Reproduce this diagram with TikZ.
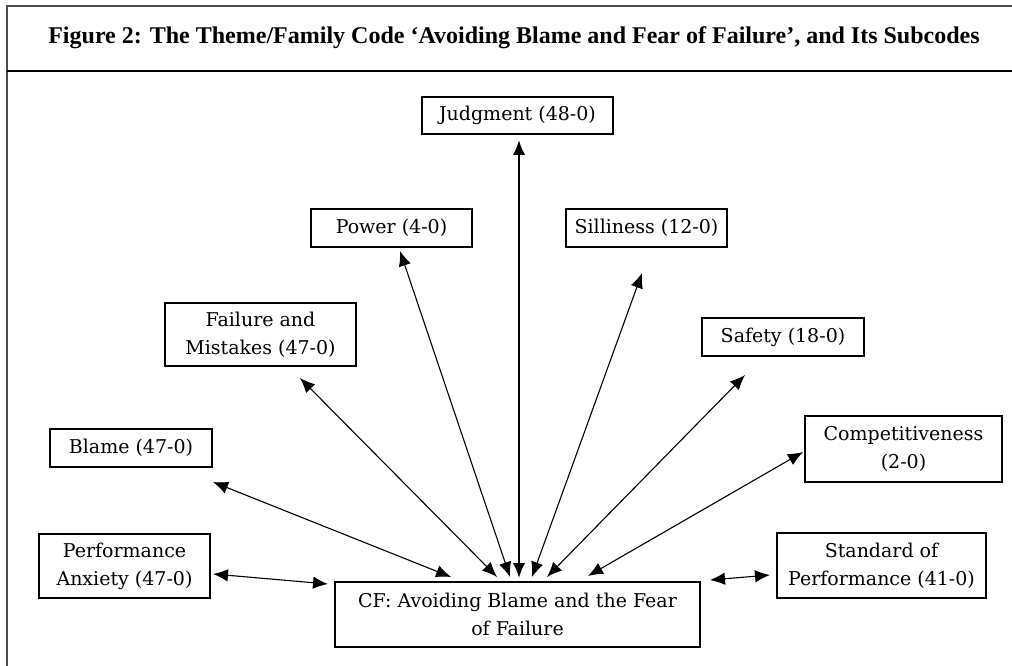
\documentclass[tikz,border=0pt]{standalone}
\usepackage{fontspec}
\setmainfont{DejaVu Serif}
\newfontfamily\headfont{Liberation Serif}
\usetikzlibrary{arrows.meta}
\begin{document}
\begin{tikzpicture}[x=1pt,y=-1pt,
  codebox/.style={draw=black, line width=1.3pt, inner sep=0pt, align=center,
    font=\fontsize{19}{28}\selectfont},
  link/.style={line width=1.1pt,
    {Latex[length=15pt,width=12.5pt]}-{Latex[length=15pt,width=12.5pt]}},
]
\useasboundingbox (0,0) rectangle (1012,666);

% frame and heading rule
\draw[gray!60!black, line width=2pt] (7,666) -- (7,6) -- (1012,6);
\draw[black, line width=2.2pt] (7,71) -- (1012,71);
\node[font=\headfont\bfseries\fontsize{24}{28}\selectfont] (title) at (514,38)
  {Figure 2: The Theme/Family Code ‘Avoiding Blame and Fear of Failure’, and Its Subcodes};

% subcodes
\node[codebox, minimum width=191pt, minimum height=37pt] (judg) at (517.5,115.5) {Judgment (48-0)};
\node[codebox, minimum width=161pt, minimum height=38pt] (power) at (391.5,228) {Power (4-0)};
\node[codebox, minimum width=161pt, minimum height=38pt] (silly) at (646.5,228) {Silliness (12-0)};
\node[codebox, minimum width=191pt, minimum height=63pt] (fail) at (260.5,334.5) {Failure and\\Mistakes (47-0)};
\node[codebox, minimum width=162pt, minimum height=38pt] (safety) at (783,337) {Safety (18-0)};
\node[codebox, minimum width=162pt, minimum height=38pt] (blame) at (131,448) {Blame (47-0)};
\node[codebox, minimum width=197pt, minimum height=66pt] (comp) at (903.5,449) {Competitiveness\\(2-0)};
\node[codebox, minimum width=171pt, minimum height=64pt] (anx) at (124.5,566) {Performance\\Anxiety (47-0)};
\node[codebox, minimum width=209pt, minimum height=65pt] (std) at (881.5,565.5) {Standard of\\Performance (41-0)};

% core category
\node[codebox, minimum width=365pt, minimum height=65pt] (cf) at (517.5,614.5) {CF: Avoiding Blame and the Fear\\of Failure};

% arrow end points
\coordinate (judg-end) at (519,140);   \coordinate (cf-judg) at (519,578);
\coordinate (power-end) at (400,251);  \coordinate (cf-power) at (510,577);
\coordinate (silly-end) at (642,273);  \coordinate (cf-silly) at (532,577);
\coordinate (fail-end) at (300,378);   \coordinate (cf-fail) at (497,577);
\coordinate (safety-end) at (745,375); \coordinate (cf-safety) at (547,577);
\coordinate (blame-end) at (213,482);  \coordinate (cf-blame) at (451,577);
\coordinate (comp-end) at (803,452);   \coordinate (cf-comp) at (588,576);
\coordinate (anx-end) at (213,574);    \coordinate (cf-anx) at (328,584);
\coordinate (std-end) at (770,575);    \coordinate (cf-std) at (710,580);

% connectors
\draw[link, line width=2pt] (judg-end) -- (cf-judg);
\draw[link] (power-end) -- (cf-power);
\draw[link] (silly-end) -- (cf-silly);
\draw[link] (fail-end) -- (cf-fail);
\draw[link] (safety-end) -- (cf-safety);
\draw[link] (blame-end) -- (cf-blame);
\draw[link] (comp-end) -- (cf-comp);
\draw[link] (anx-end) -- (cf-anx);
\draw[link] (std-end) -- (cf-std);
\end{tikzpicture}
\end{document}
